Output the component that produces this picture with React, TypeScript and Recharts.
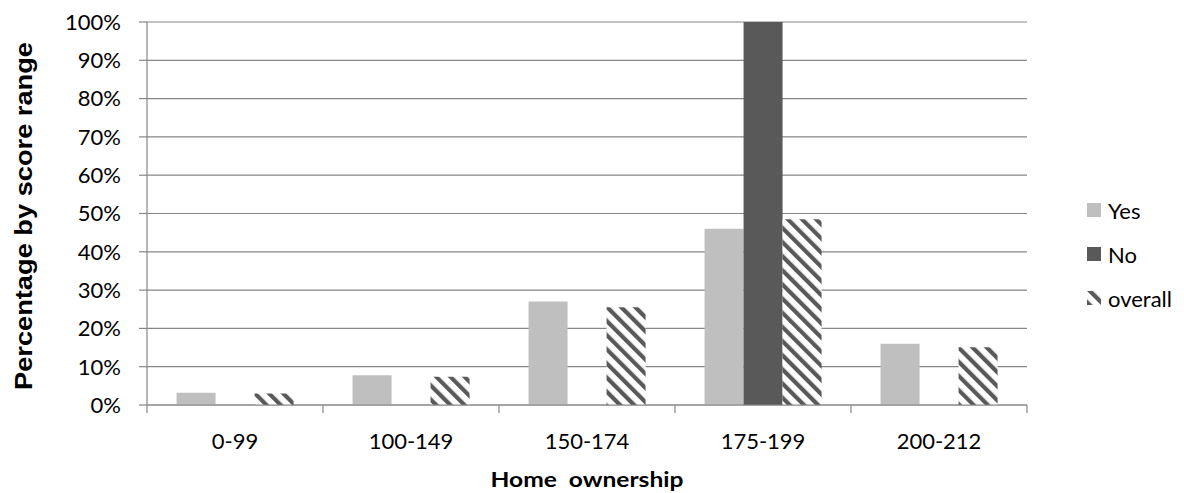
import React from 'react';
import { BarChart, Bar, XAxis, YAxis, CartesianGrid } from 'recharts';

// score ranges (categories)
const categories = ['0-99', '100-149', '150-174', '175-199', '200-212'];
// percentages
const yesValues = [3.2, 7.8, 27, 46, 16];
const noValues = [0, 0, 0, 100, 0];
const overallValues = [3, 7.4, 25.5, 48.5, 15.1];
const yTicks = [0, 10, 20, 30, 40, 50, 60, 70, 80, 90, 100];

const seriesNames = ['Yes', 'No', 'overall'];

const data = categories.map((range, i) => ({
  range,
  Yes: yesValues[i],
  No: noValues[i],
  overall: overallValues[i],
}));

const GRID = '#868686';
const LIGHT = '#BFBFBF';
const DARK = '#595959';
const TICK_FONT = 'Lato, "Open Sans", sans-serif';
const FONT_SIZE = 22;
const X_TICK_SIZE = 8;
const X_TICK_MARGIN = 20;

// x 轴刻度：标签居中，刻度线放在类别边界
const CategoryTick = ({ x, y, payload, index, visibleTicksCount }: any) => {
  const half = payload?.offset ?? 0;
  const top = y - X_TICK_MARGIN - X_TICK_SIZE;
  const bottom = y - X_TICK_MARGIN;
  const isLast = index === (visibleTicksCount ?? categories.length) - 1;
  return (
    <g>
      <line x1={x - half} x2={x - half} y1={top} y2={bottom} stroke={GRID} strokeWidth={1.2} />
      {isLast && <line x1={x + half} x2={x + half} y1={top} y2={bottom} stroke={GRID} strokeWidth={1.2} />}
      <text x={x} y={y} dy="0.71em" textAnchor="middle" fill="#000" fontSize={FONT_SIZE} fontFamily={TICK_FONT}>
        {payload.value}
      </text>
    </g>
  );
};

// 图例
const LegendBox = () => {
  const fills = [LIGHT, DARK, 'url(#stripes)'];
  return (
    <div style={{ position: 'absolute', left: 1087, top: 198, display: 'flex', flexDirection: 'column', gap: 20 }}>
      {seriesNames.map((name, i) => (
        <div key={name} style={{ display: 'flex', alignItems: 'center', height: 24 }}>
          <svg width={14} height={14} style={{ marginRight: 7 }}>
            <rect width={14} height={14} fill={fills[i]} />
          </svg>
          <span style={{ fontFamily: TICK_FONT, fontSize: FONT_SIZE, color: '#000' }}>{name}</span>
        </div>
      ))}
    </div>
  );
};

export default function App() {
  return (
    <div style={{ position: 'absolute', left: 0, top: 0, width: 1184, height: 493, background: '#fff' }}>
      <BarChart
        width={1184}
        height={493}
        data={data}
        margin={{ top: 22, right: 157, left: 0, bottom: 58 }}
        barGap={0}
        barCategoryGap="16.8%"
      >
        <defs>
          <pattern id="stripes" patternUnits="userSpaceOnUse" width={10} height={10} patternTransform="rotate(-45)">
            <rect width={10} height={10} fill="#fff" />
            <rect width={4.2} height={10} fill={DARK} />
          </pattern>
        </defs>
        <CartesianGrid vertical={false} stroke={GRID} strokeWidth={1.2} />
        <XAxis
          dataKey="range"
          height={30}
          axisLine={{ stroke: GRID, strokeWidth: 1.2 }}
          tickLine={false}
          tickSize={X_TICK_SIZE}
          tickMargin={X_TICK_MARGIN}
          interval={0}
          tick={<CategoryTick />}
        />
        <YAxis
          width={147}
          domain={[0, 100]}
          ticks={yTicks}
          interval={0}
          tickFormatter={(v) => `${v}%`}
          axisLine={{ stroke: GRID, strokeWidth: 1.2 }}
          tickLine={{ stroke: GRID, strokeWidth: 1.2 }}
          tickSize={8}
          tickMargin={18}
          tick={{ fill: '#000', fontSize: FONT_SIZE, fontFamily: TICK_FONT }}
        />
        <Bar dataKey="Yes" fill={LIGHT} isAnimationActive={false} />
        <Bar dataKey="No" fill={DARK} isAnimationActive={false} />
        <Bar dataKey="overall" fill="url(#stripes)" isAnimationActive={false} />
      </BarChart>
      <LegendBox />
      <svg width={1184} height={493} style={{ position: 'absolute', left: 0, top: 0, pointerEvents: 'none' }}>
        <text
          x={0}
          y={0}
          transform="translate(32 216) rotate(-90)"
          textAnchor="middle"
          fontFamily='"Liberation Sans", Arial, sans-serif'
          fontWeight="bold"
          fontSize={24}
          textLength={348}
          lengthAdjust="spacingAndGlyphs"
          fill="#000"
        >
          Percentage by score range
        </text>
        <text
          x={587}
          y={487}
          textAnchor="middle"
          fontFamily={TICK_FONT}
          fontWeight="bold"
          fontSize={21}
          textLength={193}
          lengthAdjust="spacingAndGlyphs"
          fill="#000"
          style={{ whiteSpace: 'pre' }}
        >
          Home  ownership
        </text>
      </svg>
    </div>
  );
}
